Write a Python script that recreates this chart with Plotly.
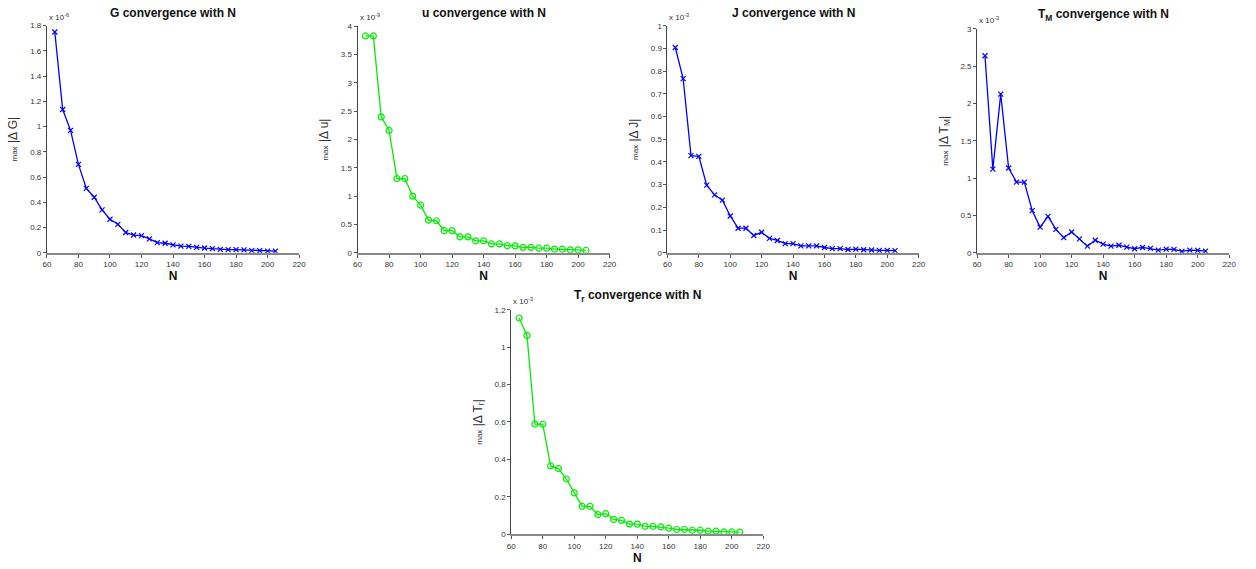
import plotly.graph_objects as go

# Grid sizes N used in the convergence study
N = list(range(65, 206, 5))

# max |Δ| between successive grids, in units of 10^exponent
G_vals = [1.75, 1.135, 0.97, 0.70, 0.51, 0.44, 0.34, 0.265, 0.225, 0.16, 0.14, 0.135,
          0.11, 0.08, 0.075, 0.062, 0.052, 0.05, 0.042, 0.037, 0.032, 0.027, 0.025,
          0.025, 0.022, 0.017, 0.016, 0.013, 0.013]
u_vals = [3.83, 3.83, 2.40, 2.16, 1.31, 1.31, 1.0, 0.84, 0.575, 0.565, 0.39, 0.39,
          0.28, 0.28, 0.21, 0.21, 0.155, 0.155, 0.125, 0.12, 0.095, 0.095, 0.08,
          0.08, 0.063, 0.063, 0.05, 0.05, 0.04]
J_vals = [0.905, 0.768, 0.428, 0.425, 0.298, 0.255, 0.232, 0.162, 0.108, 0.108, 0.076,
          0.09, 0.063, 0.054, 0.04, 0.04, 0.03, 0.03, 0.03, 0.023, 0.018, 0.018, 0.014,
          0.016, 0.013, 0.012, 0.01, 0.01, 0.009]
TM_vals = [2.64, 1.12, 2.125, 1.135, 0.946, 0.946, 0.563, 0.343, 0.488, 0.312, 0.202,
           0.277, 0.185, 0.088, 0.167, 0.114, 0.088, 0.10, 0.075, 0.053, 0.07, 0.057,
           0.035, 0.048, 0.044, 0.018, 0.035, 0.031, 0.022]
Tr_vals = [1.156, 1.063, 0.589, 0.588, 0.365, 0.351, 0.295, 0.221, 0.149, 0.149, 0.105,
           0.11, 0.079, 0.074, 0.054, 0.054, 0.042, 0.042, 0.039, 0.032, 0.025, 0.025,
           0.021, 0.021, 0.016, 0.016, 0.012, 0.012, 0.011]

titles = ["G convergence with N", "u convergence with N", "J convergence with N",
          "T<sub>M</sub> convergence with N", "T<sub>r</sub> convergence with N"]
ylabels = ["|Δ G|", "|Δ u|", "|Δ J|", "|Δ T<sub>M</sub>|", "|Δ T<sub>r</sub>|"]
exponents = [-6, -9, -3, -3, -3]
y_max = [1.8, 4, 1, 3, 1.2]
y_step = [0.2, 0.5, 0.1, 0.5, 0.2]
x_ticks = [60, 80, 100, 120, 140, 160, 180, 200, 220]

series = [G_vals, u_vals, J_vals, TM_vals, Tr_vals]
colors = ["#0000ff", "#00ee00", "#0000ff", "#0000ff", "#00ee00"]
symbols = ["x-thin-open", "circle-open", "x-thin-open", "x-thin-open", "circle-open"]

W, H = 1256, 569
# panel boxes in pixels: left, right, top, bottom
boxes = [
    (43.3, 297.7, 22.0, 252.7),
    (356.7, 611.0, 22.7, 252.7),
    (669.3, 922.7, 22.3, 252.7),
    (981.7, 1236.0, 25.3, 252.7),
    (511.7, 766.0, 310.7, 538.7),
]

fig = go.Figure()
layout = dict(
    width=W, height=H,
    margin=dict(l=0, r=0, t=0, b=0),
    paper_bgcolor="white", plot_bgcolor="white",
    showlegend=False,
    font=dict(family="Liberation Sans, Arial, sans-serif", color="#333"),
    annotations=[],
)

for i, (vals, box) in enumerate(zip(series, boxes)):
    k = "" if i == 0 else str(i + 1)
    left, right, top, bottom = box
    xd = [left / W, right / W]
    yd = [1 - bottom / H, 1 - top / H]
    fig.add_trace(go.Scatter(
        x=N, y=vals, mode="lines+markers", xaxis="x" + k, yaxis="y" + k,
        line=dict(color=colors[i], width=1.3),
        marker=dict(symbol=symbols[i], size=6 if "circle" in symbols[i] else 5,
                    color=colors[i], line=dict(color=colors[i], width=1.2)),
    ))
    yt = [round(j * y_step[i], 6) for j in range(int(round(y_max[i] / y_step[i])) + 1)]
    layout["xaxis" + k] = dict(
        domain=xd, anchor="y" + k, range=[60, 220], tickvals=x_ticks,
        showline=True, linecolor="#888", linewidth=2, ticks="outside", ticklen=3,
        tickcolor="#555", showgrid=False, zeroline=False,
        tickfont=dict(size=8, color="#333"),
        title=dict(text="<b>N</b>", font=dict(size=12, color="#111"), standoff=2),
    )
    layout["yaxis" + k] = dict(
        domain=yd, anchor="x" + k, range=[0, y_max[i]], tickvals=yt,
        showline=True, linecolor="#444", linewidth=1, ticks="outside", ticklen=3,
        tickcolor="#555", showgrid=False, zeroline=False,
        tickfont=dict(size=8, color="#333"),
        title=dict(text="<span style='font-size:8px'>max</span> " + ylabels[i],
                   font=dict(size=12, color="#333"), standoff=9),
    )
    layout["annotations"].append(dict(
        text=f"x 10<sup>{exponents[i]}</sup>", xref="paper", yref="paper",
        x=xd[0], y=yd[1], xanchor="left", yanchor="bottom", showarrow=False,
        font=dict(size=8, color="#333"), yshift=2,
    ))
    layout["annotations"].append(dict(
        text="<b>" + titles[i] + "</b>", xref="paper", yref="paper",
        x=(xd[0] + xd[1]) / 2, y=yd[1], xanchor="center", yanchor="bottom",
        showarrow=False, font=dict(size=12, color="#111"), yshift=4,
    ))

fig.update_layout(**layout)
fig.write_html("out.html")
